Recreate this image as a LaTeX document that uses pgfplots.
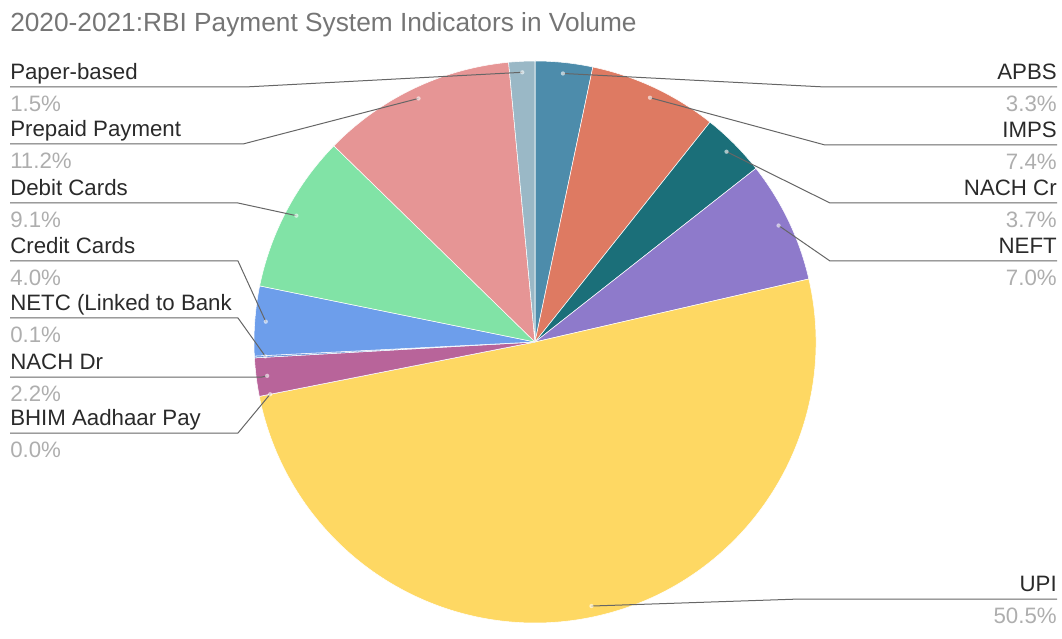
\documentclass[border=0pt]{standalone}
\usepackage{pgfplots}
\usepackage{pgfplotstable}
\pgfplotsset{compat=1.18}
\usepackage{fontspec}
\setmainfont{Liberation Sans}

\definecolor{c0}{HTML}{4D8CAB}
\definecolor{c1}{HTML}{DE7A62}
\definecolor{c2}{HTML}{1B6F79}
\definecolor{c3}{HTML}{8E7ACB}
\definecolor{c4}{HTML}{FED863}
\definecolor{c5}{HTML}{A0A0A0}
\definecolor{c6}{HTML}{B8649A}
\definecolor{c7}{HTML}{5E8FD8}
\definecolor{c8}{HTML}{6D9EEB}
\definecolor{c9}{HTML}{81E3A6}
\definecolor{c10}{HTML}{E69595}
\definecolor{c11}{HTML}{9AB8C6}
\definecolor{titlecol}{HTML}{757575}
\definecolor{namecol}{HTML}{2A2A2A}
\definecolor{pctcol}{HTML}{AEAEAE}
\definecolor{linecol}{HTML}{666666}

\newcommand\labfont{\fontsize{16.7}{19}\selectfont}

% side: 1 = right, 0 = left ; ly = y of label rule (px from top) ; ex = elbow x (px)
\pgfplotstableread[col sep=comma]{
name,value,side,ly,ex
APBS,3.3,1,87,825
IMPS,7.4,1,145,825
NACH Cr,3.7,1,203,830
NEFT,7.0,1,261,830
UPI,50.5,1,599,800
BHIM Aadhaar Pay,0.0,0,433,238
NACH Dr,2.2,0,377,262
NETC (Linked to Bank,0.1,0,318,238
Credit Cards,4.0,0,261,238
Debit Cards,9.1,0,203,238
Prepaid Payment,11.2,0,144,243
Paper-based,1.5,0,87,245
}\piedata

\begin{document}
\begin{tikzpicture}
\begin{axis}[
  scale only axis, width=796.5pt, height=471.75pt,
  xmin=0, xmax=1062, ymin=0, ymax=629,
  hide axis, clip=false]
\path (axis cs:0,0) (axis cs:1062,629);
% slices
\def\cum{0}
\pgfplotsforeachungrouped \i in {0,...,11}{%
  \pgfplotstablegetelem{\i}{value}\of\piedata \let\v\pgfplotsretval
  \pgfmathsetmacro\a{90-3.6*\cum}%
  \pgfmathsetmacro\b{90-3.6*(\cum+\v)}%
  \edef\cmd{\noexpand\fill[c\i, draw=white, line width=0.4pt, line join=round] (axis cs:535,287) -- ++(\a:210.75pt) arc[start angle=\a, end angle=\b, radius=210.75pt] -- cycle;}%
  \cmd
  \pgfmathsetmacro\cum{\cum+\v}%
}
% leader lines and labels
\def\cum{0}
\pgfplotsforeachungrouped \i in {0,...,11}{%
  \pgfplotstablegetelem{\i}{value}\of\piedata \let\v\pgfplotsretval
  \pgfplotstablegetelem{\i}{name}\of\piedata \let\nm\pgfplotsretval
  \pgfplotstablegetelem{\i}{side}\of\piedata \let\sd\pgfplotsretval
  \pgfplotstablegetelem{\i}{ly}\of\piedata \let\ly\pgfplotsretval
  \pgfplotstablegetelem{\i}{ex}\of\piedata \let\ex\pgfplotsretval
  \pgfmathsetmacro\m{90-3.6*(\cum+\v/2)}%
  \pgfmathsetmacro\dx{535+270*cos(\m)}%
  \pgfmathsetmacro\dy{287+270*sin(\m)}%
  \pgfmathsetmacro\Ly{629-\ly}%
  \pgfmathsetmacro\Ny{629-\ly+7.5}%
  \pgfmathsetmacro\Py{629-\ly-24.5}%
  \ifnum\sd=1 \def\X{1057}\def\anc{east}\else\def\X{10}\def\anc{west}\fi
  \edef\cmd{%
    \noexpand\draw[linecol, line width=0.75pt, line join=round] (axis cs:\dx,\dy) -- (axis cs:\ex,\Ly) -- (axis cs:\X,\Ly);
    \noexpand\fill[white, opacity=0.6] (axis cs:\dx,\dy) circle[radius=1.6pt];
    \noexpand\node[anchor=base \anc, inner sep=0pt, text=namecol, font=\noexpand\labfont] at (axis cs:\X,\Ny) {\nm};
    \noexpand\node[anchor=base \anc, inner sep=0pt, text=pctcol, font=\noexpand\labfont] at (axis cs:\X,\Py) {\v\noexpand\%};
  }%
  \cmd
  \pgfmathsetmacro\cum{\cum+\v}%
}
\node[anchor=base west, inner sep=0pt, text=titlecol, font=\fontsize{19.7}{23}\selectfont] at (axis cs:10,597.5) {2020-2021:RBI Payment System Indicators in Volume};
\end{axis}
\end{tikzpicture}
\end{document}
